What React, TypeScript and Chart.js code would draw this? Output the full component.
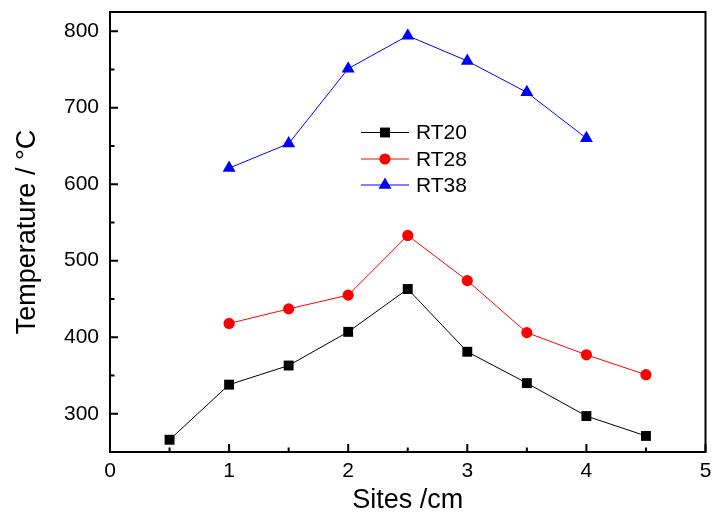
import React, { useEffect, useRef } from "react";
import { Chart, registerables } from "chart.js";

Chart.register(...registerables);

const sitesRT20 = [0.5, 1, 1.5, 2, 2.5, 3, 3.5, 4, 4.5];
const tempRT20 = [266, 338, 363, 407, 463, 381, 340, 297, 271];
const sitesRT28 = [1, 1.5, 2, 2.5, 3, 3.5, 4, 4.5];
const tempRT28 = [418, 437, 455, 533, 474, 406, 377, 351];
const sitesRT38 = [1, 1.5, 2, 2.5, 3, 3.5, 4];
const tempRT38 = [621, 653, 751, 794, 761, 720, 660];

const seriesNames = ["RT20", "RT28", "RT38"];
const xTicks = [0, 1, 2, 3, 4, 5];
const xMinorTicks = [0.5, 1.5, 2.5, 3.5, 4.5];
const yTicks = [300, 400, 500, 600, 700, 800];
const yMinorTicks = [350, 450, 550, 650, 750];

const FONT = "Arial, 'Liberation Sans', sans-serif";

function drawMarker(ctx: CanvasRenderingContext2D, style: string, r: number, x: number, y: number) {
  ctx.beginPath();
  if (style === "rect") {
    const s = Math.SQRT1_2 * r;
    ctx.rect(x - s, y - s, 2 * s, 2 * s);
  } else if (style === "circle") {
    ctx.arc(x, y, r, 0, Math.PI * 2);
  } else if (style === "triangle") {
    let rad = 0;
    ctx.moveTo(x + Math.sin(rad) * r, y - Math.cos(rad) * r);
    rad += (2 * Math.PI) / 3;
    ctx.lineTo(x + Math.sin(rad) * r, y - Math.cos(rad) * r);
    rad += (2 * Math.PI) / 3;
    ctx.lineTo(x + Math.sin(rad) * r, y - Math.cos(rad) * r);
    ctx.closePath();
  }
  ctx.fill();
}

const framePlugin = {
  id: "frameTicks",
  afterDatasetsDraw(chart: any) {
    const { ctx, chartArea: a, scales } = chart;
    const xs = scales.x;
    const ys = scales.y;
    ctx.save();
    ctx.strokeStyle = "#000";
    ctx.lineWidth = 2;
    ctx.lineCap = "butt";
    ctx.strokeRect(a.left, a.top, a.right - a.left, a.bottom - a.top);
    const major = 8;
    const minor = 4.5;
    ctx.beginPath();
    xTicks.forEach((v) => {
      const p = xs.getPixelForValue(v);
      ctx.moveTo(p, a.bottom);
      ctx.lineTo(p, a.bottom - major);
    });
    xMinorTicks.forEach((v) => {
      const p = xs.getPixelForValue(v);
      ctx.moveTo(p, a.bottom);
      ctx.lineTo(p, a.bottom - minor);
    });
    yTicks.forEach((v) => {
      const p = ys.getPixelForValue(v);
      ctx.moveTo(a.left, p);
      ctx.lineTo(a.left + major, p);
    });
    yMinorTicks.forEach((v) => {
      const p = ys.getPixelForValue(v);
      ctx.moveTo(a.left, p);
      ctx.lineTo(a.left + minor, p);
    });
    ctx.stroke();

    // legend
    const lx0 = a.left + 251;
    const lx1 = a.left + 299;
    const mx = (lx0 + lx1) / 2;
    const tx = a.left + 306;
    const rows = [a.top + 120.5, a.top + 147, a.top + 173];
    chart.data.datasets.forEach((ds: any, i: number) => {
      const y = rows[i];
      ctx.beginPath();
      ctx.strokeStyle = ds.borderColor;
      ctx.lineWidth = 1;
      ctx.moveTo(lx0, y);
      ctx.lineTo(lx1, y);
      ctx.stroke();
      ctx.fillStyle = ds.pointBackgroundColor;
      drawMarker(ctx, ds.pointStyle, ds.pointRadius, mx, y);
      ctx.fillStyle = "#000";
      ctx.font = `21px ${FONT}`;
      ctx.textAlign = "left";
      ctx.textBaseline = "middle";
      ctx.fillText(ds.label, tx, y + 1);
    });
    ctx.restore();
  },
};

function toPoints(xs: number[], ys: number[]) {
  return xs.map((x, i) => ({ x, y: ys[i] }));
}

export default function App() {
  const ref = useRef<HTMLCanvasElement>(null);
  useEffect(() => {
    if (!ref.current) return;
    const mk = (label: string, xs: number[], ys: number[], color: string, style: string, radius: number) => ({
      label,
      data: toPoints(xs, ys),
      borderColor: color,
      backgroundColor: color,
      pointBackgroundColor: color,
      pointBorderColor: color,
      pointBorderWidth: 0,
      borderWidth: 1,
      pointStyle: style,
      pointRadius: radius,
      tension: 0,
      fill: false,
    });
    const chart = new Chart(ref.current, {
      type: "line",
      data: {
        datasets: [
          mk(seriesNames[0], sitesRT20, tempRT20, "#000000", "rect", 7),
          mk(seriesNames[1], sitesRT28, tempRT28, "#ff0000", "circle", 5.6),
          mk(seriesNames[2], sitesRT38, tempRT38, "#0000ff", "triangle", 7.5),
        ] as any,
      },
      options: {
        animation: false,
        responsive: false,
        clip: false as any,
        layout: { padding: { top: 12, right: 5, left: 0, bottom: 0 } },
        plugins: { legend: { display: false }, tooltip: { enabled: false } },
        scales: {
          x: {
            type: "linear",
            min: 0,
            max: 5,
            afterBuildTicks: (s: any) => {
              s.ticks = xTicks.map((v) => ({ value: v }));
            },
            afterFit: (s: any) => {
              s.height = 63;
              s.paddingLeft = 0;
              s.paddingRight = 0;
              s.paddingTop = 0;
              s.paddingBottom = 0;
            },
            grid: { display: false, drawTicks: false },
            border: { display: false },
            ticks: { color: "#000", font: { family: FONT, size: 21 }, padding: 7, maxRotation: 0 },
            title: {
              display: true,
              text: "Sites /cm",
              color: "#000",
              font: { family: FONT, size: 27, lineHeight: 1 },
              padding: { top: 0, bottom: 1 },
            },
          },
          y: {
            type: "linear",
            min: 250,
            max: 825,
            afterBuildTicks: (s: any) => {
              s.ticks = yTicks.map((v) => ({ value: v }));
            },
            afterFit: (s: any) => {
              s.width = 110;
              s.paddingLeft = 0;
              s.paddingRight = 0;
              s.paddingTop = 0;
              s.paddingBottom = 0;
            },
            grid: { display: false, drawTicks: false },
            border: { display: false },
            ticks: { color: "#000", font: { family: FONT, size: 21 }, padding: 11 },
            title: {
              display: true,
              text: "Temperature / °C",
              color: "#000",
              font: { family: FONT, size: 27, lineHeight: 1 },
              padding: { top: 14, bottom: 0 },
            },
          },
        },
      } as any,
      plugins: [framePlugin],
    });
    return () => chart.destroy();
  }, []);
  return (
    <div style={{ position: "absolute", left: 0, top: 0, width: 713, height: 515, background: "#fff" }}>
      <canvas ref={ref} width={713} height={515} style={{ display: "block" }} />
    </div>
  );
}
